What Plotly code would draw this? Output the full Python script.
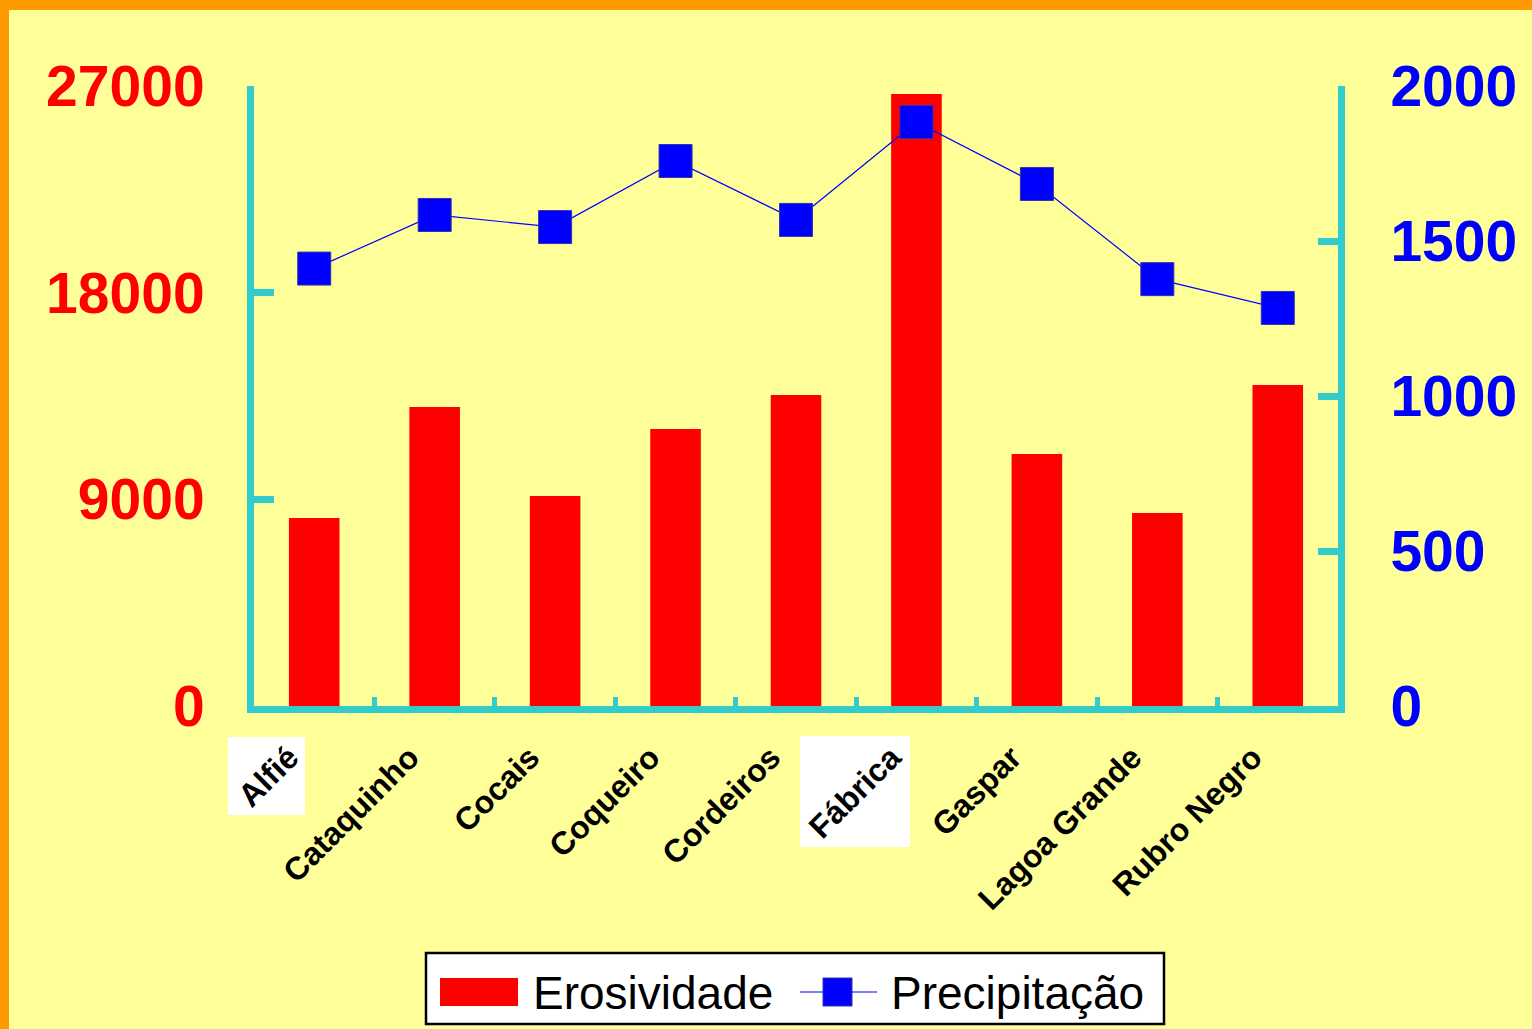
import plotly.graph_objects as go

# Stations and their annual values
stations = ["Alfié", "Cataquinho", "Cocais", "Coqueiro", "Cordeiros",
            "Fábrica", "Gaspar", "Lagoa Grande", "Rubro Negro"]
erosividade = [8190, 13020, 9150, 12060, 13540, 26650, 10970, 8400, 13980]
precipitacao = [1411, 1584, 1545, 1758, 1568, 1884, 1684, 1377, 1284]

left_ticks = [0, 9000, 18000, 27000]
left_labels = ["0", "9000", "18000", "27000"]
right_ticks = [0, 500, 1000, 1500, 2000]

W, H = 1532, 1029
L, R, T, B = 254, 1338, 86, 706  # plot area in pixels

BG = "#FFFF99"
ORANGE = "#FF9900"
CYAN = "#33CCCC"
RED = "#FF0000"
BLUE = "#0000FF"
FONT = "Liberation Sans, Arial, sans-serif"


def px(x):
    return (x - L) / (R - L)


def py(y):
    return (B - y) / (B - T)


fig = go.Figure()
fig.add_trace(go.Bar(
    x=stations, y=erosividade, name="Erosividade",
    marker=dict(color=RED, line=dict(width=0)),
    yaxis="y", showlegend=False,
))
fig.add_trace(go.Scatter(
    x=stations, y=precipitacao, name="Precipitação",
    mode="lines+markers",
    line=dict(color=BLUE, width=1.2),
    marker=dict(symbol="square", size=33, color=BLUE,
                line=dict(color="#3333AA", width=1)),
    yaxis="y2", showlegend=False,
))

shapes = []
# orange frame along the top and left edges
shapes.append(dict(type="rect", xref="paper", yref="paper", layer="below",
                   x0=px(0), x1=px(W), y0=py(10), y1=py(0),
                   fillcolor=ORANGE, line=dict(width=0)))
shapes.append(dict(type="rect", xref="paper", yref="paper", layer="below",
                   x0=px(0), x1=px(9), y0=py(H), y1=py(0),
                   fillcolor=ORANGE, line=dict(width=0)))
# white boxes behind two station labels
for x0, x1, y0, y1 in [(228, 305, 737, 815), (800, 910, 736, 847)]:
    shapes.append(dict(type="rect", xref="paper", yref="paper", layer="below",
                       x0=px(x0), x1=px(x1), y0=py(y1), y1=py(y0),
                       fillcolor="white", line=dict(width=0)))
# legend box
shapes.append(dict(type="rect", xref="paper", yref="paper",
                   x0=px(426), x1=px(1164), y0=py(1024), y1=py(953),
                   fillcolor="white", line=dict(color="black", width=2.5)))
shapes.append(dict(type="rect", xref="paper", yref="paper",
                   x0=px(440), x1=px(518), y0=py(1006), y1=py(978),
                   fillcolor=RED, line=dict(width=0)))
shapes.append(dict(type="line", xref="paper", yref="paper",
                   x0=px(800), x1=px(877), y0=py(992), y1=py(992),
                   line=dict(color=BLUE, width=1.2)))
shapes.append(dict(type="rect", xref="paper", yref="paper",
                   x0=px(823), x1=px(852), y0=py(1006), y1=py(978),
                   fillcolor=BLUE, line=dict(color="#3333AA", width=1)))

annotations = [
    dict(text="Erosividade", xref="paper", yref="paper", x=px(531), y=py(993),
         xanchor="left", yanchor="middle", showarrow=False,
         font=dict(family=FONT, size=46, color="black")),
    dict(text="Precipitação", xref="paper", yref="paper", x=px(889), y=py(993),
         xanchor="left", yanchor="middle", showarrow=False,
         font=dict(family=FONT, size=46, color="black")),
]

fig.update_layout(
    width=W, height=H,
    margin=dict(l=L, r=W - R, t=T, b=H - B, pad=0),
    paper_bgcolor=BG, plot_bgcolor=BG,
    bargap=0.58,
    showlegend=False,
    shapes=shapes, annotations=annotations,
    xaxis=dict(
        type="category", range=[-0.5, len(stations) - 0.5],
        showgrid=False, zeroline=False,
        showline=True, linecolor=CYAN, linewidth=7,
        ticks="inside", tickson="boundaries", ticklen=9, tickwidth=5,
        tickcolor=CYAN, tickangle=-45,
        ticklabelstandoff=13, ticklabelshift=-25,
        tickfont=dict(family=FONT, size=32, color="black", weight="bold"),
    ),
    yaxis=dict(
        range=[0, 27000], tickvals=left_ticks, ticktext=left_labels,
        showgrid=False, zeroline=False,
        showline=True, linecolor=CYAN, linewidth=7,
        ticks="inside", ticklen=20, tickwidth=7, tickcolor=CYAN,
        ticklabelstandoff=31,
        tickfont=dict(family=FONT, size=57, color=RED, weight="bold"),
    ),
    yaxis2=dict(
        range=[0, 2000], tickvals=right_ticks, overlaying="y", side="right",
        showgrid=False, zeroline=False,
        showline=True, linecolor=CYAN, linewidth=7,
        ticks="inside", ticklen=20, tickwidth=7, tickcolor=CYAN,
        ticklabelstandoff=34,
        tickfont=dict(family=FONT, size=57, color=BLUE, weight="bold"),
    ),
)

fig.write_html("out.html")
